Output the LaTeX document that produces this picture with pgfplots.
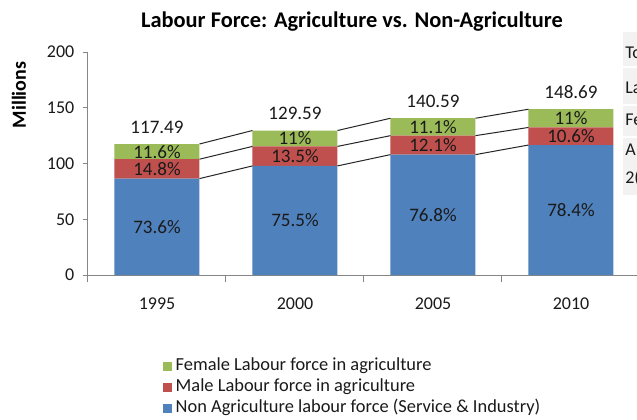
\documentclass[border=0pt]{standalone}
\usepackage{pgfplots}
\pgfplotsset{compat=1.18}
\usepackage{pgfplotstable}
\usepackage{fontspec}
\setmainfont{Carlito}
\definecolor{cblue}{HTML}{4F81BD}
\definecolor{cred}{HTML}{C0504D}
\definecolor{cgreen}{HTML}{9BBB59}
\definecolor{axgray}{HTML}{868686}
\definecolor{txt}{HTML}{1A1A1A}
\definecolor{cell}{HTML}{F2F2F2}

\pgfplotstableread{
x nonag male female
0 86.47 17.39 13.63
1 97.84 17.49 14.26
2 107.97 17.01 15.61
3 116.57 15.76 16.36
}\bars

\pgfplotstableread{
x y lab
0 43.24 73.6
1 48.92 75.5
2 53.99 76.8
3 58.29 78.4
0 95.17 14.8
1 106.59 13.5
2 116.48 12.1
3 124.45 10.6
0 110.67 11.6
1 122.46 11
2 132.79 11.1
3 140.51 11
}\pctlab

\pgfplotstableread{
x y lab
0 117.49 117.49
1 129.59 129.59
2 140.59 140.59
3 148.69 148.69
}\totals

\begin{document}
\begin{tikzpicture}[x=0.75pt,y=0.75pt]
\useasboundingbox (0,0) rectangle (637,419);
\clip (0,0) rectangle (637,419);
\fill[white] (0,0) rectangle (637,419);
% partial table at the right edge
\fill[cell] (623,419-66) rectangle (640,419-32);
\fill[cell] (623,419-104) rectangle (640,419-68);
\fill[cell] (623,419-136) rectangle (640,419-106);
\fill[cell] (623,419-195) rectangle (640,419-138);
\begin{axis}[
  at={(66pt,108pt)}, anchor=south west,
  scale only axis, width=414pt, height=167.25pt,
  ybar stacked, bar width=63.75pt,
  xmin=-0.5, xmax=3.5, ymin=0, ymax=200,
  axis x line=bottom, axis y line=left,
  axis line style={draw=axgray, line width=0.75pt, -},
  xtick={0,1,2,3}, xticklabels={1995,2000,2005,2010},
  minor xtick={-0.5,0.5,1.5,2.5,3.5},
  ytick={0,50,100,150,200},
  tick align=outside,
  tick style={draw=axgray, line width=0.75pt},
  x tick style={draw=none},
  minor x tick style={draw=axgray, line width=0.75pt},
  minor tick length=5.5pt,
  major tick length=3.75pt,
  /pgf/number format/assume math mode=true,
  tick label style={font=\fontsize{13.5}{16}\selectfont, text=txt},
  yticklabel style={xshift=-3pt},
  xticklabel style={yshift=-10pt},
  reverse legend,
  legend cell align=left,
  legend style={draw=none, fill=none, at={(0.136,-0.363)}, anchor=north west,
    font=\fontsize{13.8}{15}\selectfont, text=txt, inner sep=0pt, row sep=0.75pt,
    nodes={inner sep=1pt, text height=10pt, text depth=3pt}},
  legend image code/.code={\fill[#1,draw=none] (0pt,-3.4pt) rectangle (6.8pt,3.4pt);},
]
\addplot[fill=cblue, draw=none] table[x=x,y=nonag]{\bars};
\addlegendentry{\hspace{1.5pt}Non Agriculture labour force (Service \& Industry)}
\addplot[fill=cred, draw=none] table[x=x,y=male]{\bars};
\addlegendentry{\hspace{1.5pt}Male Labour force in agriculture}
\addplot[fill=cgreen, draw=none] table[x=x,y=female]{\bars};
\addlegendentry{\hspace{1.5pt}Female Labour force in agriculture}
\end{axis}
\begin{axis}[
  at={(66pt,108pt)}, anchor=south west,
  scale only axis, width=414pt, height=167.25pt,
  xmin=-0.5, xmax=3.5, ymin=0, ymax=200,
  hide axis, clip=false,
]
\addplot[black!85, line width=0.75pt, unbounded coords=jump, mark=none] coordinates {
 (0.308,86.47) (0.692,97.84) (1,nan) (1.308,97.84) (1.692,107.97) (2,nan) (2.308,107.97) (2.692,116.57)};
\addplot[black!85, line width=0.75pt, unbounded coords=jump, mark=none] coordinates {
 (0.308,103.86) (0.692,115.33) (1,nan) (1.308,115.33) (1.692,124.98) (2,nan) (2.308,124.98) (2.692,132.33)};
\addplot[black!85, line width=0.75pt, unbounded coords=jump, mark=none] coordinates {
 (0.308,117.49) (0.692,129.59) (1,nan) (1.308,129.59) (1.692,140.59) (2,nan) (2.308,140.59) (2.692,148.69)};
\addplot[draw=none, mark=none, point meta=explicit symbolic,
  nodes near coords={\pgfplotspointmeta\%},
  every node near coord/.style={anchor=center, inner sep=0pt, text=txt, font=\fontsize{14.3}{16}\selectfont}]
  table[x=x,y=y,meta=lab]{\pctlab};
\addplot[draw=none, mark=none, point meta=explicit symbolic,
  nodes near coords={\pgfplotspointmeta},
  every node near coord/.style={anchor=center, inner sep=0pt, yshift=12.5pt, text=txt, font=\fontsize{14.3}{16}\selectfont}]
  table[x=x,y=y,meta=lab]{\totals};
\end{axis}
\node[font=\bfseries\fontsize{16.8}{20}\selectfont, text=black] at (352,419-22) {Labour Force: Agriculture vs. Non-Agriculture};
\node[font=\bfseries\fontsize{15}{18}\selectfont, text=black, rotate=90] at (19,419-95) {Millions};
\begin{scope}[every node/.style={anchor=west, inner sep=0pt, text=txt, font=\fontsize{13.5}{16}\selectfont}]
\node at (625,419-53) {To};
\node at (625,419-88) {La};
\node at (625,419-120) {Fe};
\node at (625,419-150) {A};
\node at (625,419-178) {2(};
\end{scope}
\end{tikzpicture}
\end{document}
